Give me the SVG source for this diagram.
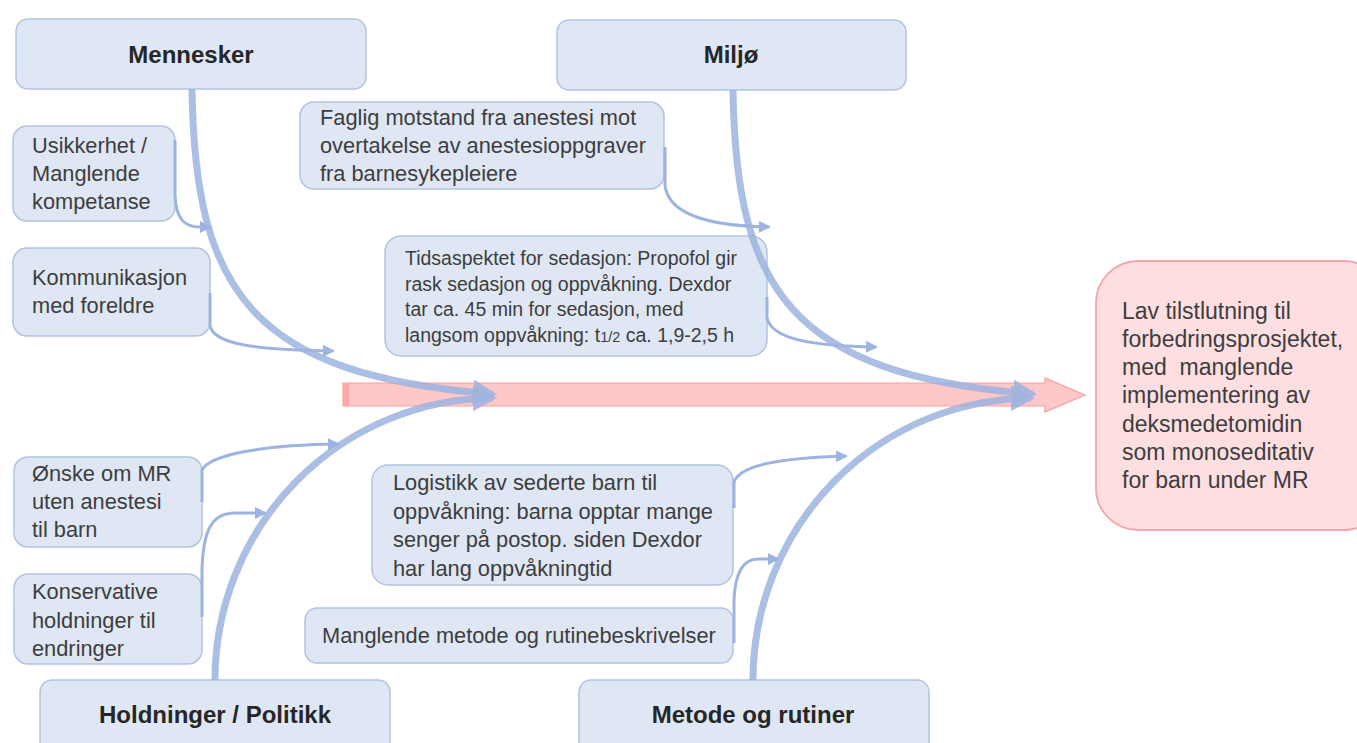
<svg xmlns="http://www.w3.org/2000/svg" width="1357" height="743" viewBox="0 0 1357 743">
<defs>
<style>
.box{fill:#dfe7f4;stroke:#b3c3e0;stroke-width:1.5}
.hdr{font-family:"Liberation Sans",Arial,sans-serif;font-weight:bold;font-size:24px;fill:#262626;text-anchor:middle}
.txt{font-family:"Liberation Sans",Arial,sans-serif;font-size:21.8px;fill:#3d3d3d}
.txt2{font-family:"Liberation Sans",Arial,sans-serif;font-size:19.5px;fill:#3d3d3d}
.txt3{font-family:"Liberation Sans",Arial,sans-serif;font-size:23px;fill:#3d3d3d}
.main{fill:none;stroke:#9db4e0;stroke-width:7}
.small{fill:none;stroke:#9db4e0;stroke-width:3}
</style>
<marker id="bigHead" markerUnits="userSpaceOnUse" viewBox="0 0 24 26" refX="20" refY="13" markerWidth="24" markerHeight="26" orient="auto">
<path d="M0,0 L24,13 L0,26 z" fill="#9db4e0"/>
</marker>
<marker id="smallHead" markerUnits="userSpaceOnUse" viewBox="0 0 12 12" refX="10" refY="6" markerWidth="12" markerHeight="12" orient="auto">
<path d="M0,0 L12,6 L0,12 z" fill="#9db4e0"/>
</marker>
</defs>

<!-- red spine arrow -->
<g id="spine">
<path d="M343,383 L1045,383 L1045,378 L1085,395 L1045,412 L1045,406 L343,406 z" fill="#ffc8c8" stroke="#ff9c9c" stroke-width="1.2"/>
<rect x="343" y="383" width="6" height="23" fill="#ffa8a8"/>
</g>

<!-- effect box -->
<g id="effect">
<rect x="1096" y="261" width="290" height="269" rx="42" fill="#fddfe1" stroke="#f7a4aa" stroke-width="1.8"/>
<text class="txt3" x="1122" y="319">Lav tilstlutning til</text>
<text class="txt3" x="1122" y="347">forbedringsprosjektet,</text>
<text class="txt3" x="1122" y="375" xml:space="preserve">med  manglende</text>
<text class="txt3" x="1122" y="403">implementering av</text>
<text class="txt3" x="1122" y="432">deksmedetomidin</text>
<text class="txt3" x="1122" y="460">som monoseditativ</text>
<text class="txt3" x="1122" y="488">for barn under MR</text>
</g>

<g id="cat-mennesker">
<rect class="box" x="16" y="19" width="350" height="70" rx="12"/>
<text class="hdr" x="191" y="63">Mennesker</text>
</g>
<g id="cat-miljo">
<rect class="box" x="557" y="20" width="349" height="70" rx="12"/>
<text class="hdr" x="731" y="63">Miljø</text>
</g>
<g id="cat-holdninger">
<rect class="box" x="40" y="680" width="350" height="80" rx="12"/>
<text class="hdr" x="215" y="723">Holdninger / Politikk</text>
</g>
<g id="cat-metode">
<rect class="box" x="579" y="680" width="350" height="80" rx="12"/>
<text class="hdr" x="753" y="723">Metode og rutiner</text>
</g>

<g id="c-usikkerhet">
<rect class="box" x="13" y="126" width="162" height="95" rx="14"/>
<text class="txt" x="32" y="153">Usikkerhet /</text>
<text class="txt" x="32" y="181">Manglende</text>
<text class="txt" x="32" y="209">kompetanse</text>
</g>
<g id="c-kommunikasjon">
<rect class="box" x="13" y="248" width="197" height="88" rx="14"/>
<text class="txt" x="32" y="285">Kommunikasjon</text>
<text class="txt" x="32" y="313">med foreldre</text>
</g>
<g id="c-faglig">
<rect class="box" x="300" y="102" width="364" height="87" rx="14"/>
<text class="txt" x="320" y="125">Faglig motstand fra anestesi mot</text>
<text class="txt" x="320" y="153">overtakelse av anestesioppgraver</text>
<text class="txt" x="320" y="181">fra barnesykepleiere</text>
</g>
<g id="c-tidsaspektet">
<rect class="box" x="385" y="236" width="382" height="120" rx="16"/>
<text class="txt2" x="405" y="265">Tidsaspektet for sedasjon: Propofol gir</text>
<text class="txt2" x="405" y="291">rask sedasjon og oppvåkning. Dexdor</text>
<text class="txt2" x="405" y="316">tar ca. 45 min for sedasjon, med</text>
<text class="txt2" x="405" y="342">langsom oppvåkning: t<tspan font-size="14.5">1/2</tspan> ca. 1,9-2,5 h</text>
</g>
<g id="c-onske">
<rect class="box" x="14" y="457" width="188" height="90" rx="14"/>
<text class="txt" x="32" y="481">Ønske om MR</text>
<text class="txt" x="32" y="509">uten anestesi</text>
<text class="txt" x="32" y="537">til barn</text>
</g>
<g id="c-konservative">
<rect class="box" x="14" y="574" width="188" height="90" rx="14"/>
<text class="txt" x="32" y="599">Konservative</text>
<text class="txt" x="32" y="628">holdninger til</text>
<text class="txt" x="32" y="656">endringer</text>
</g>
<g id="c-logistikk">
<rect class="box" x="372" y="465" width="361" height="120" rx="16"/>
<text class="txt" x="393" y="490">Logistikk av sederte barn til</text>
<text class="txt" x="393" y="519">oppvåkning: barna opptar mange</text>
<text class="txt" x="393" y="547">senger på postop. siden Dexdor</text>
<text class="txt" x="393" y="576">har lang oppvåkningtid</text>
</g>
<g id="c-manglende">
<rect class="box" x="305" y="608" width="428" height="55" rx="12"/>
<text class="txt" x="322" y="643">Manglende metode og rutinebeskrivelser</text>
</g>

<g id="connectors">
<g opacity="0.85"><path class="main" d="M192,89 C195,290 250,375 493,394" marker-end="url(#bigHead)"/></g>
<g opacity="0.85"><path class="main" d="M215,680 A280,282 0 0 1 493,398" marker-end="url(#bigHead)"/></g>
<g opacity="0.85"><path class="main" d="M733,90 C736,290 791,375 1033,394" marker-end="url(#bigHead)"/></g>
<g opacity="0.85"><path class="main" d="M753,680 A280,282 0 0 1 1031,398" marker-end="url(#bigHead)"/></g>

<path class="small" d="M175,140 L175,195 C176,220 185,227 200,227 L210,227" marker-end="url(#smallHead)"/>
<path class="small" d="M210,293 L210,325 C212,345 260,350 333,351" marker-end="url(#smallHead)"/>
<path class="small" d="M665,147 L665,185 C668,215 710,226 769,227" marker-end="url(#smallHead)"/>
<path class="small" d="M767,297 L767,318 C772,340 815,346 876,347" marker-end="url(#smallHead)"/>
<path class="small" d="M202,502 L202,470 C210,455 260,445 338,444" marker-end="url(#smallHead)"/>
<path class="small" d="M202,617 L202,570 C203,530 212,513 235,513 L265,513" marker-end="url(#smallHead)"/>
<path class="small" d="M734,508 L734,482 C740,465 780,458 846,456" marker-end="url(#smallHead)"/>
<path class="small" d="M734,643 L734,600 C735,575 742,559 758,559 L778,559" marker-end="url(#smallHead)"/>
</g>
</svg>
